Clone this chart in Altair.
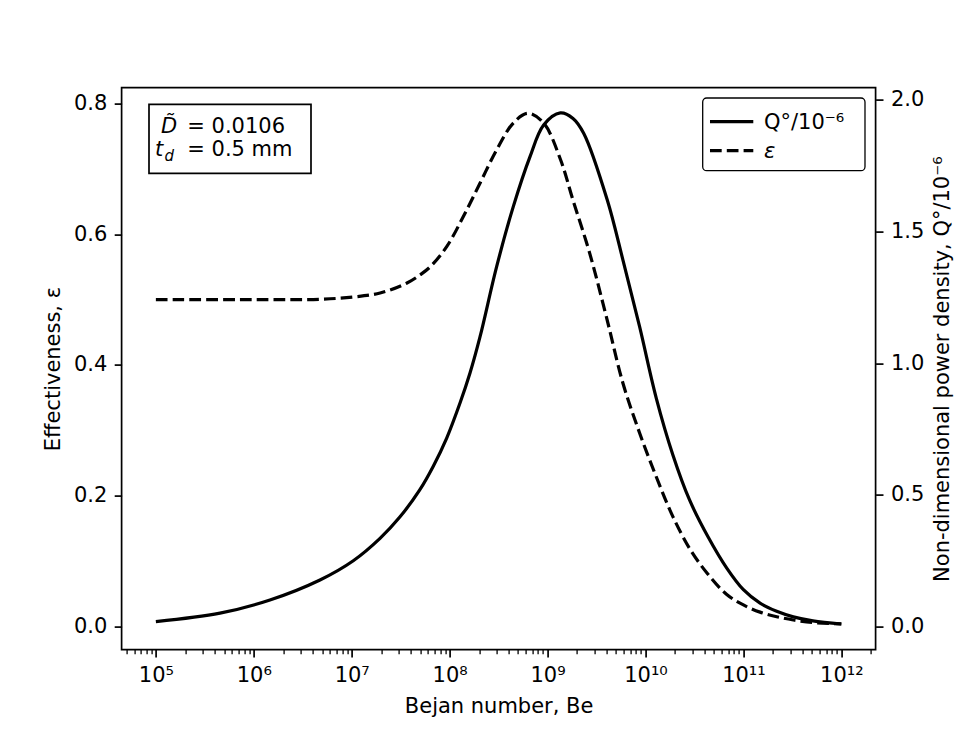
import altair as alt
import pandas as pd

# ---------------- data ----------------
# effectiveness (dashed, left axis)
eps_log_be = [5.0, 6.0, 6.68, 7.02, 7.29, 7.56, 7.70, 7.80, 7.97, 8.14, 8.31, 8.48,
              8.65, 8.80, 8.96, 9.13, 9.26, 9.43, 9.60, 9.77, 9.94, 10.11, 10.28,
              10.46, 10.63, 10.83, 11.0, 11.17, 11.34, 11.51, 11.71, 12.0]
eps_vals = [0.500, 0.500, 0.5005, 0.504, 0.510, 0.525, 0.538, 0.550, 0.581, 0.627,
            0.678, 0.729, 0.770, 0.785, 0.770, 0.715, 0.652, 0.571, 0.474, 0.372,
            0.296, 0.229, 0.168, 0.117, 0.0815, 0.049, 0.033, 0.022, 0.015, 0.010,
            0.006, 0.004]

# non-dimensional power density (solid, right axis)
q_log_be = [5.0, 5.655, 6.165, 6.676, 7.016, 7.289, 7.489, 7.693, 7.833, 7.97,
            8.106, 8.208, 8.31, 8.48, 8.65, 8.82, 8.96, 9.13, 9.26, 9.37, 9.61,
            9.77, 9.94, 10.11, 10.28, 10.45, 10.64, 10.83, 11.0, 11.17, 11.34,
            11.51, 11.71, 12.0]
q_vals = [0.019, 0.051, 0.101, 0.177, 0.250, 0.335, 0.415, 0.518, 0.609, 0.716,
          0.849, 0.963, 1.100, 1.367, 1.595, 1.784, 1.905, 1.951, 1.930, 1.873,
          1.620, 1.392, 1.139, 0.868, 0.652, 0.481, 0.340, 0.222, 0.140, 0.089,
          0.058, 0.037, 0.022, 0.010]

x_major_exp = [5, 6, 7, 8, 9, 10, 11, 12]
x_major_labels = ["10⁵", "10⁶", "10⁷", "10⁸", "10⁹", "10¹⁰", "10¹¹", "10¹²"]
eps_ticks = [0.0, 0.2, 0.4, 0.6, 0.8]
q_ticks = [0.0, 0.5, 1.0, 1.5, 2.0]

eps_df = pd.DataFrame({"Be": [10.0 ** v for v in eps_log_be], "eps": eps_vals})
q_df = pd.DataFrame({"Be": [10.0 ** v for v in q_log_be], "Q": q_vals})

# ---------------- layout ----------------
W, H = 754, 562
FONT = "DejaVu Sans"
FS = 21
LW = 3.2
DASH = [11.7, 5.1]

x_lo, x_hi = 10 ** 4.65, 10 ** 12.35
major_vals = [10.0 ** e for e in x_major_exp]
minor_vals = []
for n in range(4, 13):
    for k in range(2, 10):
        v = k * 10.0 ** n
        if x_lo <= v <= x_hi:
            minor_vals.append(v)
tick_vals = sorted(major_vals + minor_vals)

label_expr = ""
for v, lab in zip(major_vals, x_major_labels):
    label_expr += f"datum.value == {v!r} ? '{lab}' : "
label_expr += "''"
major_test = "abs(log(datum.value)/LN10 - round(log(datum.value)/LN10)) < 1e-6"

x_scale = alt.Scale(type="log", domain=[x_lo, x_hi], nice=False)
x_axis = alt.Axis(
    values=tick_vals,
    labelExpr=label_expr,
    tickSize={"condition": {"test": major_test, "value": 7.4}, "value": 4.2},
    tickWidth={"condition": {"test": major_test, "value": 1.7}, "value": 1.3},
    labelOverlap=False,
    labelFlush=False,
    labelPadding=7.4,
    title="Bejan number, Be",
    titleY=62.6,
    titleBaseline="alphabetic",
)

eps_line = alt.Chart(eps_df).mark_line(
    color="black", strokeWidth=LW, strokeDash=DASH, interpolate="catmull-rom"
).encode(
    x=alt.X("Be:Q", scale=x_scale, axis=x_axis),
    y=alt.Y(
        "eps:Q",
        scale=alt.Scale(domain=[-0.0353, 0.8242], nice=False, zero=False),
        axis=alt.Axis(
            values=eps_ticks, format=".1f", orient="left",
            title="Effectiveness, ε", titleX=-68.6, titleY=H / 2,
            titleAngle=270, titleBaseline="middle",
        ),
    ),
)

q_line = alt.Chart(q_df).mark_line(
    color="black", strokeWidth=LW, interpolate="catmull-rom"
).encode(
    x=alt.X("Be:Q", scale=x_scale, axis=x_axis),
    y=alt.Y(
        "Q:Q",
        scale=alt.Scale(domain=[-0.0873, 2.047], nice=False, zero=False),
        axis=alt.Axis(
            values=q_ticks, format=".1f", orient="right",
            title="Non-dimensional power density, Q°/10⁻⁶",
            titleX=67.3, titleY=H / 2, titleAngle=270, titleBaseline="middle",
        ),
    ),
)


def one():
    return pd.DataFrame({"k": [0]})


def txt(s, x, y, size=FS, style="normal"):
    return alt.Chart(pd.DataFrame({"label": [s]})).mark_text(
        align="left", baseline="alphabetic", font=FONT, fontSize=size,
        fontStyle=style, color="black"
    ).encode(x=alt.value(x), y=alt.value(y), text="label:N")


# parameter box (top-left)
pbox = alt.Chart(one()).mark_rect(fill="white", stroke="black", strokeWidth=1.7).encode(
    x=alt.value(27.4), x2=alt.value(189.4), y=alt.value(16.7), y2=alt.value(85.7)
)
p1a = txt("D̃", 39.5, 45.7, style="italic")
p1b = txt("= 0.0106", 65.7, 45.7)
p2a = txt("t", 33.4, 68.4, style="italic")
p2b = txt("d", 43.0, 73.5, size=15, style="italic")
p2c = txt("= 0.5 mm", 65.7, 68.4)

# legend (top-right)
lbox = alt.Chart(one()).mark_rect(
    fill="white", stroke="black", strokeWidth=1.3, cornerRadius=4
).encode(x=alt.value(581.1), x2=alt.value(743.4), y=alt.value(10.4), y2=alt.value(83.1))
l1 = alt.Chart(one()).mark_rule(color="black", strokeWidth=LW).encode(
    x=alt.value(588.4), x2=alt.value(631.7), y=alt.value(34.1)
)
l2 = alt.Chart(one()).mark_rule(color="black", strokeWidth=LW, strokeDash=DASH).encode(
    x=alt.value(588.4), x2=alt.value(631.7), y=alt.value(63.1)
)
l1t = txt("Q°/10⁻⁶", 642.4, 41.5)
l2t = txt("ε", 642.4, 70.0, style="italic")

chart = alt.layer(
    eps_line, q_line, pbox, p1a, p1b, p2a, p2b, p2c, lbox, l1, l2, l1t, l2t
).resolve_scale(y="independent").properties(
    width=W, height=H,
    padding={"left": 113.6, "top": 79.6, "right": 80, "bottom": 72},
    autosize=alt.AutoSizeParams(type="none"),
).configure(font=FONT).configure_axis(
    labelFont=FONT, titleFont=FONT, labelFontSize=FS, titleFontSize=FS,
    titleFontWeight="normal", labelColor="black", titleColor="black",
    tickColor="black", tickWidth=1.7, tickSize=7.4, labelPadding=7.4,
    grid=False, domain=False,
).configure_view(stroke="black", strokeWidth=1.7)

chart.save("out.html", embed_options={"renderer": "svg", "actions": False})
